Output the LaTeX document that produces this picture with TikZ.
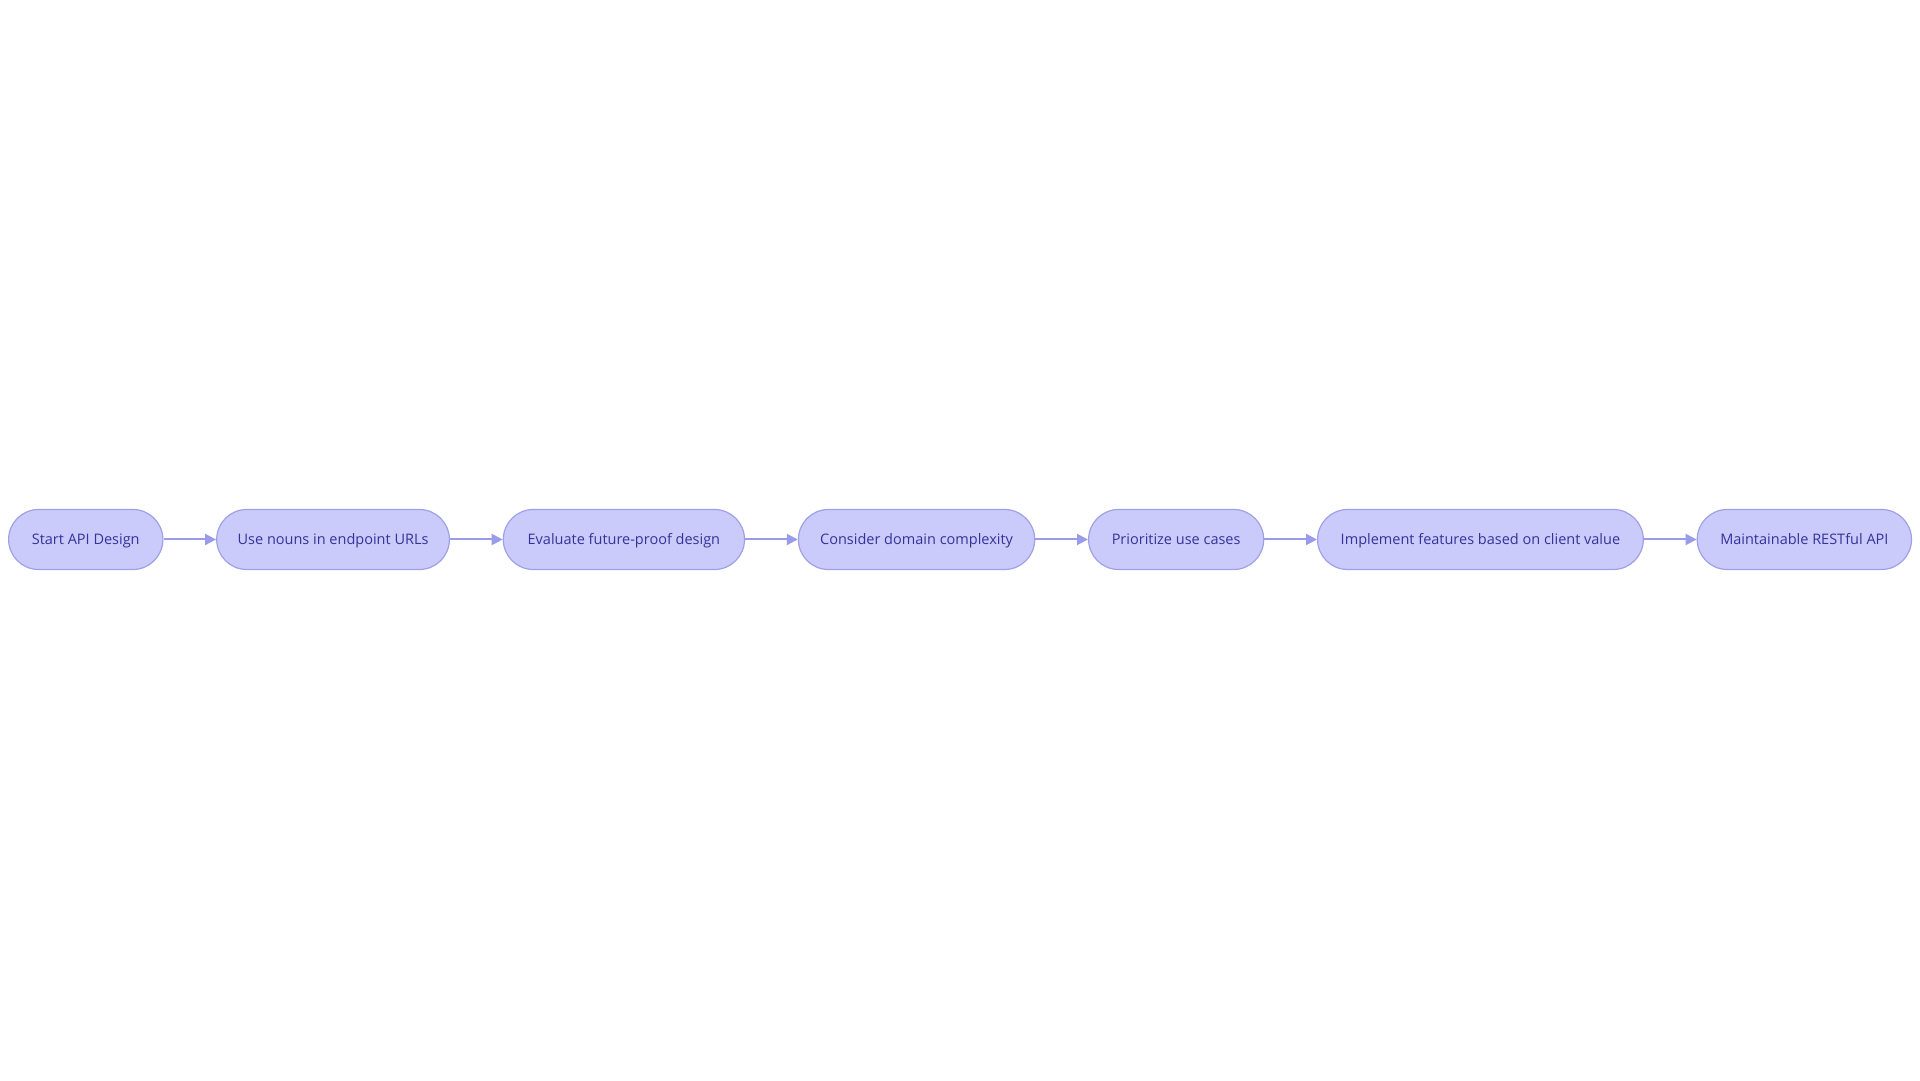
\documentclass[tikz,border=0pt]{standalone}
\usepackage{fontspec}
\setmainfont{Open Sans}
\usetikzlibrary{arrows.meta}
\definecolor{nodefill}{HTML}{CACBFA}
\definecolor{nodedraw}{HTML}{A0A0E8}
\definecolor{nodetext}{HTML}{33339A}
\definecolor{edgecol}{HTML}{9B9BEB}
\tikzset{
  flowbox/.style={draw=nodedraw, fill=nodefill, line width=1.2pt, rounded corners=30pt,
    minimum height=60pt, inner sep=0pt, text=nodetext, text height=12pt, text depth=1pt,
    font=\fontsize{14.5}{17}\selectfont},
  flowedge/.style={draw=edgecol, line width=2pt, -{Triangle[length=11pt,width=11pt]}}
}
\begin{document}
\begin{tikzpicture}[x=1pt,y=1pt]
\useasboundingbox (0,0) rectangle (1920,1080);
\fill[white] (0,0) rectangle (1920,1080);
\node[flowbox, minimum width=154.3pt] (n1) at (85.75,540.5) {Start API Design};
\node[flowbox, minimum width=232.7pt] (n2) at (333.05,540.5) {Use nouns in endpoint URLs};
\node[flowbox, minimum width=241.2pt] (n3) at (623.9,540.5) {Evaluate future-proof design};
\node[flowbox, minimum width=236.3pt] (n4) at (916.55,540.5) {Consider domain complexity};
\node[flowbox, minimum width=175.1pt] (n5) at (1176.15,540.5) {Prioritize use cases};
\node[flowbox, minimum width=325.7pt] (n6) at (1480.45,540.5) {Implement features based on client value};
\node[flowbox, minimum width=214.3pt] (n7) at (1804.35,540.5) {Maintainable RESTful API};
\draw[flowedge] (n1) -- (n2);
\draw[flowedge] (n2) -- (n3);
\draw[flowedge] (n3) -- (n4);
\draw[flowedge] (n4) -- (n5);
\draw[flowedge] (n5) -- (n6);
\draw[flowedge] (n6) -- (n7);
\end{tikzpicture}
\end{document}
